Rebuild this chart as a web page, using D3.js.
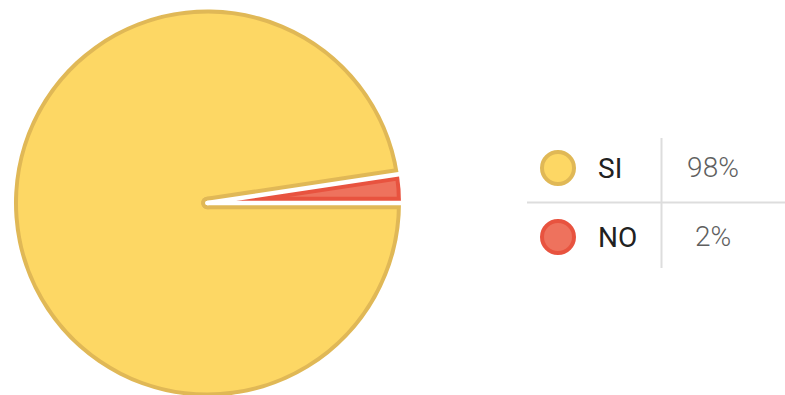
<!DOCTYPE html>
<html>
<head>
<meta charset="utf-8">
<script src="https://cdn.jsdelivr.net/npm/d3@7"></script>
<style>
  html, body { margin: 0; padding: 0; background: #fff; }
  svg { display: block; font-family: Roboto, "Noto Sans", sans-serif; }
</style>
</head>
<body>
<svg id="chart" width="785" height="395"></svg>
<script>
// Answers and their counts
const categories = ["SI", "NO"];
const counts = [41, 1];
const fills = ["#fdd764", "#ee725d"];
const borders = ["#e0b856", "#e8533f"];

const svg = d3.select("#chart");
const cx = 207.5, cy = 203, R = 193.5;
const gap = 4.5, border = 4;

const total = d3.sum(counts);
const data = categories.map((c, i) => ({ name: c, value: counts[i], i }));

const pie = d3.pie()
  .sort(null)
  .value(d => d.value)
  .startAngle(Math.PI / 2)
  .endAngle(Math.PI / 2 + 2 * Math.PI);
const arcs = pie(data);
const arc = d3.arc().innerRadius(0).outerRadius(R);

// slice boundary angles (shared between neighbouring slices)
const boundaries = arcs.map(a => a.startAngle);
const pt = (a, r) => [r * Math.sin(a), -r * Math.cos(a)];

const defs = svg.append("defs");
const g = svg.append("g").attr("transform", `translate(${cx},${cy})`);

arcs.forEach((a, k) => {
  const id = "slice-mask-" + k;
  const m = defs.append("mask")
    .attr("id", id)
    .attr("maskUnits", "userSpaceOnUse")
    .attr("x", -400).attr("y", -400).attr("width", 800).attr("height", 800);
  m.append("path").attr("d", arc(a)).attr("fill", "#fff");
  boundaries.forEach(b => {
    const p = pt(b, R + 20);
    m.append("line")
      .attr("x1", 0).attr("y1", 0).attr("x2", p[0]).attr("y2", p[1])
      .attr("stroke", "#000").attr("stroke-width", gap).attr("stroke-linecap", "round");
  });

  const sg = g.append("g").attr("mask", `url(#${id})`);
  sg.append("path").attr("d", arc(a)).attr("fill", fills[a.data.i]);
  sg.append("path").attr("d", arc(a))
    .attr("fill", "none")
    .attr("stroke", borders[a.data.i])
    .attr("stroke-width", border * 2);
  boundaries.forEach(b => {
    const p = pt(b, R + 20);
    sg.append("line")
      .attr("x1", 0).attr("y1", 0).attr("x2", p[0]).attr("y2", p[1])
      .attr("stroke", borders[a.data.i])
      .attr("stroke-width", gap + border * 2)
      .attr("stroke-linecap", "round");
  });
});

// Legend table
const rowY = d3.scalePoint().domain(categories).range([168, 237]);
const leg = svg.append("g");

leg.append("line")
  .attr("x1", 661.5).attr("x2", 661.5).attr("y1", 138).attr("y2", 268)
  .attr("stroke", "#dddddd").attr("stroke-width", 2);
leg.append("line")
  .attr("x1", 527).attr("x2", 785).attr("y1", 202.5).attr("y2", 202.5)
  .attr("stroke", "#dddddd").attr("stroke-width", 2);

const rows = leg.selectAll("g.row").data(data).join("g")
  .attr("class", "row")
  .attr("transform", d => `translate(0,${rowY(d.name)})`);

rows.append("circle")
  .attr("cx", 558).attr("cy", 0).attr("r", 16)
  .attr("fill", d => fills[d.i])
  .attr("stroke", d => borders[d.i])
  .attr("stroke-width", 4);

rows.append("text")
  .attr("x", 598).attr("y", 9.5)
  .attr("font-size", 28).attr("font-weight", 400)
  .attr("fill", "#212121")
  .text(d => d.name);

rows.append("text")
  .attr("x", 713).attr("y", 8.5)
  .attr("text-anchor", "middle")
  .attr("font-size", 28).attr("font-weight", 300)
  .attr("fill", "#5f5f5f")
  .text(d => Math.round(d.value / total * 100) + "%");
</script>
</body>
</html>
